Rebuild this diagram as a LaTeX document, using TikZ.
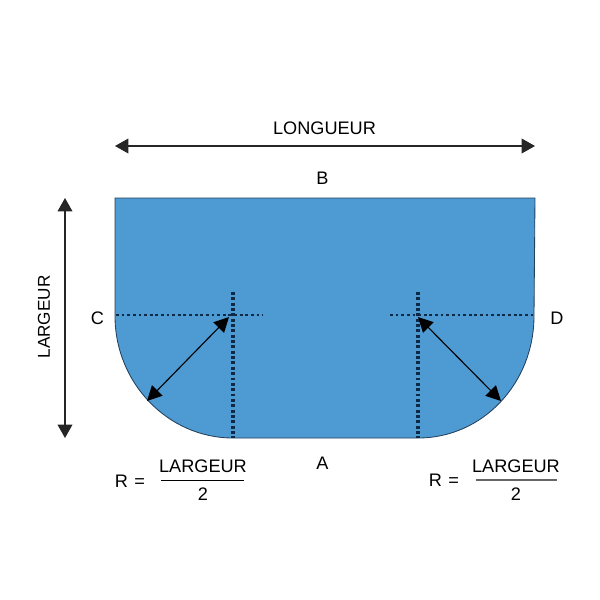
\documentclass[tikz,border=0pt]{standalone}
\usepackage{fontspec}
\setmainfont{Liberation Sans}
\usetikzlibrary{arrows.meta}
\definecolor{bassin}{HTML}{4E9AD2}
\definecolor{bord}{HTML}{24405C}
\definecolor{pointille}{HTML}{0E2A46}
\tikzset{
  cote/.style={draw=black!85,line width=0.9pt,{Triangle[length=9.5pt,width=10.5pt]}-{Triangle[length=9.5pt,width=10.5pt]}},
  rayon/.style={draw=black,line width=0.8pt,{Triangle[length=10.5pt,width=10.5pt]}-{Triangle[length=10.5pt,width=10.5pt]}},
  axe/.style={draw=pointille,line width=1.9pt,dash pattern=on 2pt off 2pt},
  axeV/.style={draw=pointille,line width=2.2pt,dash pattern=on 2.1pt off 1.7pt},
  lbl/.style={inner sep=0pt,font=\fontsize{12.9}{15}\selectfont},
  barre/.style={line width=0.7pt}
}
\begin{document}
\begin{tikzpicture}[x=0.025cm,y=-0.025cm]
  \useasboundingbox (0,0) rectangle (600,600);
  % bassin
  \filldraw[fill=bassin,draw=bord,line width=0.6pt] (115,198) -- (535,198) -- (534,316)
    .. controls (534,383) and (483,438) .. (418,438) -- (233,438)
    .. controls (168,438) and (115,383) .. (115,316) -- cycle;
  % cotes
  \coordinate (longG) at (115,146);
  \coordinate (longD) at (535,146);
  \coordinate (largH) at (65,198);
  \coordinate (largB) at (65,438);
  \draw[cote] (longG) -- (longD);
  \draw[cote] (largH) -- (largB);
  \node[lbl] (longueur) at (324.5,128) {LONGUEUR};
  \node[lbl,rotate=90,font=\fontsize{12.2}{15}\selectfont] (largeur) at (44,317) {LARGEUR};
  % axes
  \coordinate (gA) at (116,315);
  \coordinate (gB) at (263,315);
  \coordinate (gH) at (233,292);
  \coordinate (gC) at (233,438);
  \coordinate (dA) at (390,315);
  \coordinate (dB) at (534,315);
  \coordinate (dH) at (418,292);
  \coordinate (dC) at (418,438);
  \draw[axe] (gA) -- (gB);
  \draw[axe] (dA) -- (dB);
  \draw[axeV] (gH) -- (gC);
  \draw[axeV] (dH) -- (dC);
  % rayons
  \coordinate (rG1) at (229,317);
  \coordinate (rG2) at (147,401);
  \coordinate (rD1) at (418,317);
  \coordinate (rD2) at (501,401);
  \draw[rayon] (rG1) -- (rG2);
  \draw[rayon] (rD1) -- (rD2);
  % lettres
  \node[lbl] (lB) at (322.5,178) {B};
  \node[lbl] (lA) at (322.5,463) {A};
  \node[lbl] (lC) at (97.5,318) {C};
  \node[lbl] (lD) at (557,318) {D};
  % formules
  \node[lbl] (rG) at (130,481) {R\hspace{1pt} =\hspace{0.5pt}};
  \node[lbl] (numG) at (203,466) {LARGEUR};
  \node[lbl] (denG) at (203,494) {2};
  \draw[barre,draw=black] (161,480.5) -- (244,480.5);
  \node[lbl] (rD) at (444,480) {R\hspace{1pt} =\hspace{0.5pt}};
  \node[lbl] (numD) at (516,466) {LARGEUR};
  \node[lbl] (denD) at (516,494) {2};
  \draw[barre,draw=black!60,line width=1pt] (476,480) -- (557,480);
\end{tikzpicture}
\end{document}
